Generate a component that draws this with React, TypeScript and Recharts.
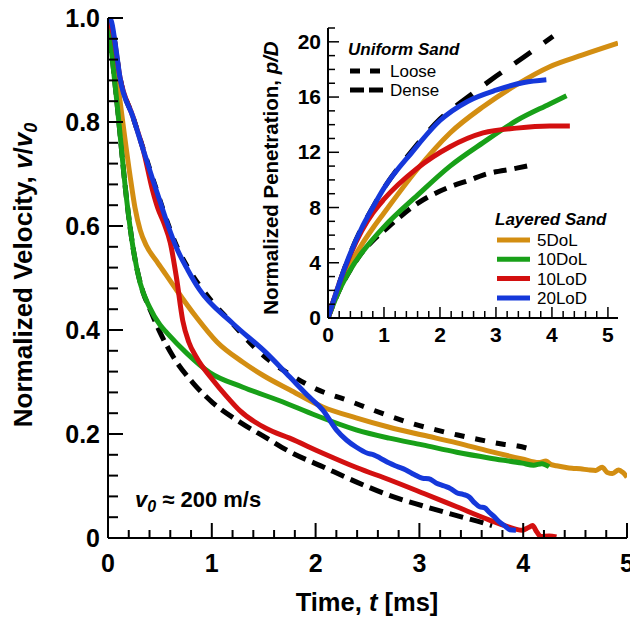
import React from 'react';
import { LineChart, Line, XAxis, YAxis } from 'recharts';

// main plot: normalized velocity v/v0 vs time t [ms]
const V_LOOSE: [number, number][] = [
  [0, 1.0], [0.05, 0.97], [0.115, 0.886], [0.24, 0.81], [0.34, 0.748], [0.43, 0.692], [0.5, 0.65],
  [0.58, 0.603], [0.66, 0.562], [0.8, 0.51], [0.98, 0.46], [1.2, 0.412], [1.37, 0.375],
  [1.55, 0.342], [1.75, 0.315], [2.0, 0.287], [2.33, 0.263], [2.54, 0.247], [2.75, 0.232],
  [2.95, 0.219], [3.16, 0.208], [3.37, 0.198], [3.58, 0.189], [3.82, 0.18], [3.95, 0.177],
  [4.05, 0.172],
];
const V_DENSE: [number, number][] = [
  [0, 1.0], [0.085, 0.84], [0.18, 0.65], [0.24, 0.56], [0.34, 0.471], [0.4, 0.442], [0.5, 0.396],
  [0.63, 0.348], [0.82, 0.298], [1.01, 0.26], [1.27, 0.223], [1.53, 0.192], [1.75, 0.166],
  [2.07, 0.137], [2.39, 0.108], [2.71, 0.082], [3.03, 0.062], [3.36, 0.043], [3.6, 0.03], [3.7, 0.024],
];
const V_5DOL: [number, number][] = [
  [0, 1.0], [0.04, 0.96], [0.115, 0.842], [0.21, 0.7], [0.26, 0.635], [0.31, 0.592], [0.37, 0.562],
  [0.47, 0.532], [0.56, 0.506], [0.66, 0.477], [0.85, 0.425], [1.05, 0.377], [1.3, 0.338],
  [1.5, 0.312], [1.75, 0.285], [2.07, 0.252], [2.39, 0.231], [2.71, 0.213], [3.03, 0.198],
  [3.36, 0.183], [3.67, 0.167], [3.99, 0.152], [4.15, 0.145], [4.22, 0.148], [4.27, 0.141],
  [4.32, 0.139], [4.4, 0.136], [4.47, 0.134], [4.55, 0.133], [4.63, 0.131], [4.7, 0.13],
  [4.76, 0.136], [4.81, 0.126], [4.86, 0.124], [4.92, 0.131], [4.96, 0.126], [5.0, 0.117],
];
const V_10DOL: [number, number][] = [
  [0, 1.0], [0.085, 0.84], [0.18, 0.65], [0.24, 0.56], [0.31, 0.49], [0.4, 0.444], [0.5, 0.41],
  [0.57, 0.394], [0.76, 0.355], [0.98, 0.318], [1.3, 0.29], [1.68, 0.262], [2.0, 0.236],
  [2.39, 0.208], [2.71, 0.192], [3.03, 0.179], [3.36, 0.165], [3.67, 0.154], [3.99, 0.144],
  [4.1, 0.14], [4.18, 0.143], [4.25, 0.137],
];
const V_10LOD: [number, number][] = [
  [0, 1.0], [0.05, 0.97], [0.115, 0.886], [0.24, 0.81], [0.34, 0.746], [0.43, 0.668], [0.48, 0.634],
  [0.54, 0.605], [0.6, 0.568], [0.66, 0.5], [0.72, 0.418], [0.78, 0.376], [0.85, 0.348],
  [1.01, 0.304], [1.14, 0.273], [1.27, 0.245], [1.53, 0.21], [1.75, 0.192], [2.07, 0.163],
  [2.4, 0.135], [2.71, 0.112], [3.05, 0.085], [3.36, 0.06], [3.67, 0.035], [3.85, 0.022],
  [3.99, 0.015], [4.05, 0.02], [4.09, 0.024], [4.13, 0.012], [4.17, 0.003], [4.25, 0.004],
  [4.32, 0.002],
];
const V_20LOD: [number, number][] = [
  [0, 1.0], [0.03, 0.995], [0.07, 0.95], [0.115, 0.886], [0.24, 0.81], [0.34, 0.746], [0.43, 0.69],
  [0.5, 0.648], [0.58, 0.6], [0.66, 0.558], [0.77, 0.515], [0.88, 0.478], [1.2, 0.413],
  [1.53, 0.355], [1.75, 0.31], [1.94, 0.271], [2.07, 0.246], [2.2, 0.208], [2.3, 0.188],
  [2.39, 0.175], [2.5, 0.163], [2.56, 0.16], [2.62, 0.154], [2.71, 0.144], [2.78, 0.138],
  [2.87, 0.131], [2.95, 0.122], [3.03, 0.115], [3.09, 0.114], [3.16, 0.106], [3.24, 0.1],
  [3.3, 0.095], [3.36, 0.087], [3.42, 0.084], [3.48, 0.079], [3.53, 0.068], [3.58, 0.06],
  [3.63, 0.058], [3.67, 0.05], [3.72, 0.041], [3.77, 0.031], [3.83, 0.022], [3.87, 0.016],
  [3.93, 0.015],
];

// inset: normalized penetration p/D vs time t [ms]
const P_LOOSE: [number, number][] = [
  [0, 0], [0.2, 2.5], [0.4, 4.7], [0.6, 6.5], [0.8, 8.0], [1.0, 9.4], [1.5, 12.1], [2.0, 14.4],
  [2.5, 16.0], [3.0, 17.5], [3.5, 18.9], [4.02, 20.4],
];
const P_DENSE: [number, number][] = [
  [0, 0], [0.2, 2.0], [0.4, 3.5], [0.6, 4.7], [0.8, 5.6], [1.05, 6.5], [1.6, 8.3], [2.18, 9.5],
  [2.54, 10.0], [2.77, 10.35], [3.37, 10.85], [3.66, 11.1],
];
const P_5DOL: [number, number][] = [
  [0, 0], [0.2, 2.2], [0.4, 3.9], [0.6, 5.3], [0.8, 6.5], [1.0, 7.6], [1.58, 10.7], [2.18, 13.4],
  [2.77, 15.3], [3.37, 16.9], [3.96, 18.2], [4.55, 19.05], [5.18, 19.9],
];
const P_10DOL: [number, number][] = [
  [0, 0], [0.2, 2.0], [0.4, 3.5], [0.6, 4.7], [0.8, 5.7], [1.0, 6.6], [1.6, 8.9], [2.18, 11.0],
  [2.77, 12.7], [3.37, 14.3], [3.96, 15.5], [4.26, 16.1],
];
const P_10LOD: [number, number][] = [
  [0, 0], [0.2, 2.5], [0.4, 4.6], [0.6, 6.3], [0.8, 7.6], [1.0, 8.6], [1.58, 10.8], [2.18, 12.4],
  [2.77, 13.4], [3.37, 13.75], [3.96, 13.9], [4.32, 13.9],
];
const P_20LOD: [number, number][] = [
  [0, 0], [0.2, 2.5], [0.4, 4.7], [0.6, 6.5], [0.8, 8.0], [1.0, 9.4], [1.5, 12.0], [2.0, 14.3],
  [2.5, 15.7], [3.0, 16.5], [3.5, 17.05], [3.9, 17.25],
];

const MAIN_X_TICKS = Array.from({ length: 26 }, (_, i) => Math.round(i * 2) / 10);
const MAIN_Y_TICKS = Array.from({ length: 26 }, (_, i) => Math.round(i * 4) / 100);
const INSET_X_TICKS = Array.from({ length: 26 }, (_, i) => Math.round(i * 2) / 10);
const INSET_Y_TICKS = Array.from({ length: 22 }, (_, i) => i);

const FONT = '"Liberation Sans", Arial, Helvetica, sans-serif';

const SERIES = [
  { name: 'Loose', color: '#000000', v: V_LOOSE, p: P_LOOSE, dashMain: '10 11', dashInset: '20 16', dashKey: '10 10' },
  { name: 'Dense', color: '#000000', v: V_DENSE, p: P_DENSE, dashMain: '14 7', dashInset: '13 8', dashKey: '14 5' },
  { name: '5DoL', color: '#D38E12', v: V_5DOL, p: P_5DOL },
  { name: '10DoL', color: '#18A018', v: V_10DOL, p: P_10DOL },
  { name: '10LoD', color: '#D31010', v: V_10LOD, p: P_10LOD },
  { name: '20LoD', color: '#1538DA', v: V_20LOD, p: P_20LOD },
];

const toRows = (pts: [number, number][]) => pts.map(([t, y]) => ({ t, y }));

const near = (a: number, b: number) => Math.abs(a - b) < 1e-6;

const MainXTick = (p: any) => {
  const v = p.payload.value;
  const major = near(v, Math.round(v));
  return (
    <g>
      <line x1={p.x} y1={p.y} x2={p.x} y2={p.y - (major ? 15 : 8)} stroke="#000" strokeWidth={2} />
      {major && (
        <text x={p.x} y={p.y + 34} textAnchor="middle" fontFamily={FONT} fontWeight="bold" fontSize={25} fill="#000">
          {v}
        </text>
      )}
    </g>
  );
};

const MainYTick = (p: any) => {
  const v = p.payload.value;
  const major = near(v * 5, Math.round(v * 5));
  return (
    <g>
      <line x1={p.x} y1={p.y} x2={p.x + (major ? 15 : 10)} y2={p.y} stroke="#000" strokeWidth={2} />
      {major && (
        <text x={p.x - 8} y={p.y + 9} textAnchor="end" fontFamily={FONT} fontWeight="bold" fontSize={25} fill="#000">
          {v === 0 ? '0' : v.toFixed(1)}
        </text>
      )}
    </g>
  );
};

const InsetXTick = (p: any) => {
  const v = p.payload.value;
  const major = near(v, Math.round(v));
  return (
    <g>
      <line x1={p.x} y1={p.y} x2={p.x} y2={p.y - (major ? 11 : 7)} stroke="#000" strokeWidth={1.5} />
      {major && (
        <text x={p.x} y={p.y + 24} textAnchor="middle" fontFamily={FONT} fontWeight="bold" fontSize={21} fill="#000">
          {v}
        </text>
      )}
    </g>
  );
};

const InsetYTick = (p: any) => {
  const v = p.payload.value;
  const major = v % 4 === 0;
  return (
    <g>
      <line x1={p.x} y1={p.y} x2={p.x + (major ? 11 : 7)} y2={p.y} stroke="#000" strokeWidth={1.5} />
      {major && (
        <text x={p.x - 7} y={p.y + 7} textAnchor="end" fontFamily={FONT} fontWeight="bold" fontSize={21} fill="#000">
          {v}
        </text>
      )}
    </g>
  );
};

const frame = { stroke: '#000', strokeWidth: 2 };

export default function App() {
  const uniform = SERIES.slice(0, 2);
  const layered = SERIES.slice(2);
  return (
    <div style={{ position: 'absolute', left: 0, top: 0, width: 630, height: 618, background: '#fff' }}>
      <LineChart width={630} height={618} margin={{ top: 18, right: 3, left: 0, bottom: 0 }}>
        <XAxis
          dataKey="t"
          type="number"
          domain={[0, 5]}
          ticks={MAIN_X_TICKS}
          interval={0}
          height={80}
          tickSize={0}
          tickMargin={0}
          tickLine={false}
          tick={<MainXTick />}
          axisLine={frame}
          allowDataOverflow
        />
        <XAxis xAxisId="top" orientation="top" type="number" domain={[0, 5]} height={0} tick={false} tickLine={false} axisLine={frame} />
        <YAxis
          type="number"
          domain={[0, 1]}
          ticks={MAIN_Y_TICKS}
          interval={0}
          width={108}
          tickSize={0}
          tickMargin={0}
          tickLine={false}
          tick={<MainYTick />}
          axisLine={frame}
          allowDataOverflow
        />
        <YAxis yAxisId="right" orientation="right" domain={[0, 1]} width={0} tick={false} tickLine={false} axisLine={frame} />
        {SERIES.map((s) => (
          <Line
            key={s.name}
            name={s.name}
            data={toRows(s.v)}
            dataKey="y"
            type="monotone"
            stroke={s.color}
            strokeWidth={5}
            strokeDasharray={s.dashMain}
            dot={false}
            activeDot={false}
            isAnimationActive={false}
          />
        ))}
      </LineChart>

      <div style={{ position: 'absolute', left: 240, top: 10 }}>
        <LineChart width={385} height={340} margin={{ top: 18, right: 7, left: 0, bottom: 0 }}>
          <XAxis
            dataKey="t"
            type="number"
            domain={[0, 5.18]}
            ticks={INSET_X_TICKS}
            interval={0}
            height={32}
            tickSize={0}
            tickMargin={0}
            tickLine={false}
            tick={<InsetXTick />}
            axisLine={frame}
            allowDataOverflow
          />
          <XAxis xAxisId="top" orientation="top" type="number" domain={[0, 5.18]} height={0} tick={false} tickLine={false} axisLine={frame} />
          <YAxis
            type="number"
            domain={[0, 21]}
            ticks={INSET_Y_TICKS}
            interval={0}
            width={88}
            tickSize={0}
            tickMargin={0}
            tickLine={false}
            tick={<InsetYTick />}
            axisLine={frame}
            allowDataOverflow
          />
          <YAxis yAxisId="right" orientation="right" domain={[0, 21]} width={0} tick={false} tickLine={false} axisLine={frame} />
          {SERIES.map((s) => (
            <Line
              key={s.name}
              name={s.name}
              data={toRows(s.p)}
              dataKey="y"
              type="monotone"
              stroke={s.color}
              strokeWidth={5}
              strokeDasharray={s.dashInset}
              dot={false}
              activeDot={false}
              isAnimationActive={false}
            />
          ))}
        </LineChart>
      </div>

      <svg width={630} height={618} style={{ position: 'absolute', left: 0, top: 0, pointerEvents: 'none' }} fontFamily={FONT}>
        <text transform="translate(32,275) rotate(-90)" textAnchor="middle" fontSize={26} fontWeight="bold">
          Normalized Velocity, <tspan fontStyle="italic">v</tspan>/<tspan fontStyle="italic">v</tspan>
          <tspan fontStyle="italic" fontSize={18} dy={5}>0</tspan>
        </text>
        <text x={367} y={611} textAnchor="middle" fontSize={25.5} fontWeight="bold">
          Time, <tspan fontStyle="italic">t</tspan> [ms]
        </text>
        <text x={135} y={507} fontSize={22} fontWeight="bold">
          <tspan fontStyle="italic">v</tspan>
          <tspan fontStyle="italic" fontSize={16} dy={5}>0</tspan>
          <tspan dy={-5}> ≈ 200 m/s</tspan>
        </text>
        <text transform="translate(278,178) rotate(-90)" textAnchor="middle" fontSize={20.5} fontWeight="bold">
          Normalized Penetration, <tspan fontStyle="italic">p/D</tspan>
        </text>

        <text x={348} y={55} fontSize={17} fontWeight="bold" fontStyle="italic">Uniform Sand</text>
        {uniform.map((s, i) => (
          <g key={s.name}>
            <line x1={350} x2={383} y1={71 + i * 19} y2={71 + i * 19} stroke={s.color} strokeWidth={5} strokeDasharray={s.dashKey} />
            <text x={390} y={77 + i * 19} fontSize={17}>{s.name}</text>
          </g>
        ))}

        <text x={495} y={225} fontSize={17} fontWeight="bold" fontStyle="italic">Layered Sand</text>
        {layered.map((s, i) => (
          <g key={s.name}>
            <line x1={497} x2={530} y1={240 + i * 19.3} y2={240 + i * 19.3} stroke={s.color} strokeWidth={5} />
            <text x={537} y={246 + i * 19.3} fontSize={17}>{s.name}</text>
          </g>
        ))}
      </svg>
    </div>
  );
}
